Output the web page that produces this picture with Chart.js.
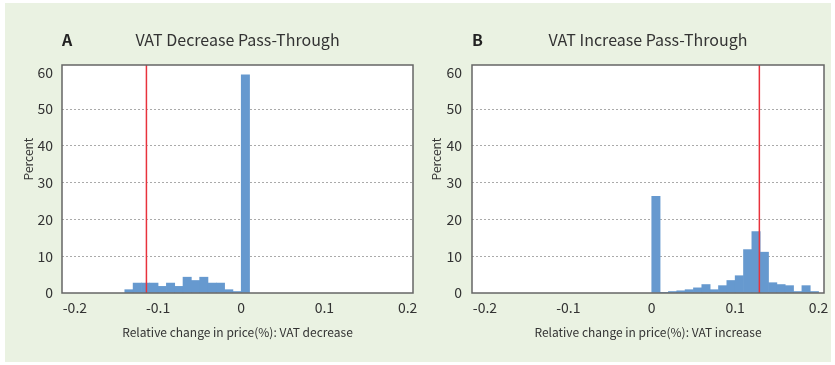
<!DOCTYPE html>
<html>
<head>
<meta charset="utf-8">
<script src="https://cdn.jsdelivr.net/npm/chart.js@4.4.1/dist/chart.umd.min.js"></script>
<style>
  html, body { margin: 0; padding: 0; background: #fff; }
  #panel { position: absolute; left: 5px; top: 3px; width: 826px; height: 359px; background: #eaf2e2; }
  #decCanvas { position: absolute; left: 0; top: 0; }
  #incCanvas { position: absolute; left: 420px; top: 0; }
</style>
</head>
<body>
<div id="panel"></div>
<canvas id="decCanvas" width="420" height="365"></canvas>
<canvas id="incCanvas" width="415" height="365"></canvas>
<script>
// histogram bins: left edge of each 0.01-wide bin, percent of obs
const decBinStart = [-0.14, -0.13, -0.12, -0.11, -0.10, -0.09, -0.08, -0.07, -0.06, -0.05, -0.04, -0.03, -0.02, -0.01, 0.00];
const decPercent  = [0.9, 2.7, 2.7, 2.7, 1.8, 2.7, 1.8, 4.3, 3.4, 4.3, 2.7, 2.7, 0.9, 0.4, 59.3];
const incBinStart = [0.00, 0.01, 0.02, 0.03, 0.04, 0.05, 0.06, 0.07, 0.08, 0.09, 0.10, 0.11, 0.12, 0.13, 0.14, 0.15, 0.16, 0.17, 0.18, 0.19];
const incPercent  = [26.3, 0.1, 0.4, 0.6, 0.9, 1.4, 2.3, 0.9, 2.0, 3.4, 4.7, 11.8, 16.7, 11.1, 2.8, 2.3, 2.0, 0.4, 2.0, 0.4];
const binWidth = 0.01;
const decCutoff = -0.114;
const incCutoff = 0.129;

const xTicks = [-0.2, -0.1, 0, 0.1, 0.2];
const yTicks = [0, 10, 20, 30, 40, 50, 60];

const FONT = "'Noto Sans CJK KR', 'Noto Sans', sans-serif";
const TEXT = "#333";

const framePlugin = {
  id: "frame",
  beforeDraw(chart) {
    const {ctx, chartArea: a} = chart;
    ctx.save();
    ctx.fillStyle = "#fff";
    ctx.fillRect(a.left, a.top, a.right - a.left, a.bottom - a.top);
    ctx.restore();
  },
  afterDatasetsDraw(chart, args, opts) {
    const {ctx, chartArea: a, scales} = chart;
    const x = scales.x.getPixelForValue(opts.cutoff);
    ctx.save();
    ctx.strokeStyle = "#e8323c";
    ctx.lineWidth = 1.5;
    ctx.beginPath();
    ctx.moveTo(x, a.top);
    ctx.lineTo(x, a.bottom);
    ctx.stroke();
    ctx.restore();
  },
  afterDraw(chart, args, opts) {
    const {ctx, chartArea: a} = chart;
    ctx.save();
    // plot frame
    ctx.strokeStyle = "#666";
    ctx.lineWidth = 1.5;
    ctx.strokeRect(a.left, a.top, a.right - a.left, a.bottom - a.top);

    // panel letter and title
    ctx.fillStyle = "#222";
    ctx.textBaseline = "middle";
    ctx.font = "bold 16px " + FONT;
    ctx.textAlign = "left";
    ctx.fillText(opts.letter, a.left, 40);
    ctx.fillStyle = TEXT;
    ctx.font = "16px " + FONT;
    ctx.textAlign = "center";
    ctx.fillText(opts.title, (a.left + a.right) / 2, 40);

    // y-axis title
    ctx.font = "12px " + FONT;
    ctx.translate(a.left - opts.yTitleGap, 159);
    ctx.rotate(-Math.PI / 2);
    ctx.fillText("Percent", 0, 0);
    ctx.restore();
  }
};

function makeChart(canvas, bins, values, cutoff, letter, title, xTitle, g) {
  return new Chart(canvas, {
    type: "bar",
    data: {
      datasets: [{
        data: bins.map((b, i) => ({x: b + binWidth / 2, y: values[i]})),
        backgroundColor: "#6699cf",
        borderWidth: 0,
        barPercentage: 1,
        categoryPercentage: 1
      }]
    },
    options: {
      responsive: false,
      animation: false,
      layout: { padding: { top: 65, right: g.right, left: 0, bottom: 20 } },
      scales: {
        x: {
          type: "linear",
          offset: false,
          min: -0.2155,
          max: 0.2065,
          afterBuildTicks: s => { s.ticks = xTicks.map(v => ({value: v})); },
          afterFit: s => { s.height = 52; s.paddingLeft = 0; s.paddingRight = 0; },
          grid: { display: false },
          border: { display: false },
          ticks: { color: TEXT, font: { family: FONT, size: 14 }, padding: -2, maxRotation: 0 },
          title: { display: true, text: xTitle, color: TEXT, font: { family: FONT, size: 12 }, padding: { top: 0, bottom: 5 } }
        },
        y: {
          min: 0,
          max: 62,
          afterBuildTicks: s => { s.ticks = yTicks.map(v => ({value: v})); },
          afterFit: s => { s.width = g.yWidth; s.paddingTop = 0; s.paddingBottom = 0; },
          grid: {
            drawTicks: false,
            color: c => (c.tick && c.tick.value > 0 && c.tick.value < 60) ? "#aaaaaa" : "rgba(0,0,0,0)",
            lineWidth: 1
          },
          border: { display: false, dash: [2, 2] },
          ticks: { color: TEXT, font: { family: FONT, size: 14 }, padding: g.tickPad }
        }
      },
      plugins: {
        legend: { display: false },
        tooltip: { enabled: false },
        frame: { cutoff: cutoff, letter: letter, title: title, yTitleGap: g.yTitleGap }
      }
    },
    plugins: [framePlugin]
  });
}

makeChart(document.getElementById("decCanvas"), decBinStart, decPercent, decCutoff,
  "A", "VAT Decrease Pass-Through", "Relative change in price(%): VAT decrease",
  { yWidth: 62, right: 7, tickPad: 9, yTitleGap: 34 });

makeChart(document.getElementById("incCanvas"), incBinStart, incPercent, incCutoff,
  "B", "VAT Increase Pass-Through", "Relative change in price(%): VAT increase",
  { yWidth: 52, right: 11, tickPad: 10, yTitleGap: 36 });
</script>
</body>
</html>
